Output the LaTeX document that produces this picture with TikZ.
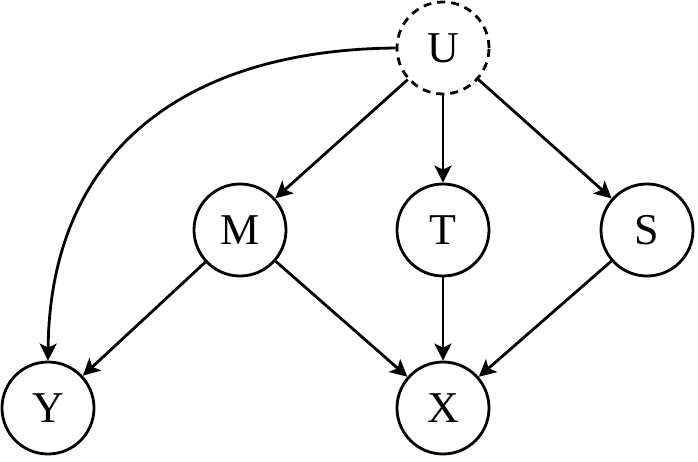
\documentclass[tikz,border=0pt]{standalone}
\usepackage{fontspec}
\setmainfont{Liberation Serif}
\usetikzlibrary{arrows.meta}
\begin{document}
\begin{tikzpicture}[x=1pt,y=-1pt,
  var/.style={circle,draw,line width=2.8pt,minimum size=92pt,inner sep=0pt,font=\fontsize{44}{52}\selectfont},
  latent/.style={var,dash pattern=on 8pt off 6pt},
  edge/.style={line width=2.8pt,-{Stealth[length=17pt,width=17pt,inset=4pt]}}]
\useasboundingbox (0,0) rectangle (698,462);
\node[latent] (U) at (443,48) {U};
\node[var] (M) at (240,230) {M};
\node[var] (T) at (443,230) {T};
\node[var] (S) at (647,230) {S};
\node[var] (Y) at (48,408) {Y};
\node[var] (X) at (443,408) {X};
\draw[edge] (U.west) .. controls (180,50) and (50,155) .. (Y.north);
\draw[edge] (U) -- (M);
\draw[edge] (U) -- (T);
\draw[edge] (U) -- (S);
\draw[edge] (M) -- (Y);
\draw[edge] (M) -- (X);
\draw[edge] (T) -- (X);
\draw[edge] (S) -- (X);
\end{tikzpicture}
\end{document}
